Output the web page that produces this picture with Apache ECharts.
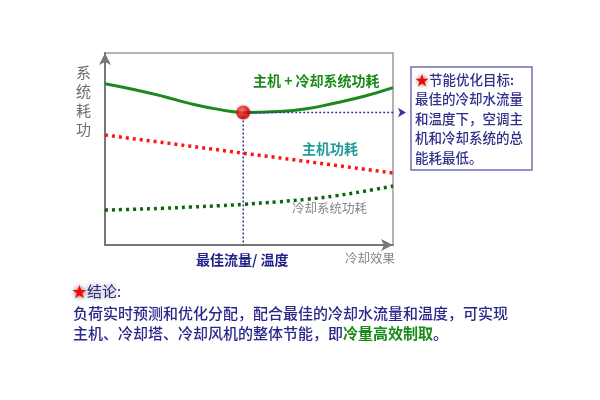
<!DOCTYPE html>
<html><head><meta charset="utf-8">
<script src="https://cdn.jsdelivr.net/npm/echarts@6/dist/echarts.min.js"></script>
<style>html,body{margin:0;padding:0;background:#fff}#c{width:600px;height:400px}</style>
</head><body><div id="c"></div>
<script>
// ---- data ----
const xs = [0, 10, 20, 30, 40, 48, 60, 70, 80, 90, 100];
const totalPower = [84, 81, 77.5, 73.5, 70.5, 69, 69.5, 71, 74, 77.5, 82];
const hostPower = [57.3, 55.3, 53.4, 51.4, 49.4, 47.8, 45.5, 43.5, 41.5, 39.5, 37.5];
const coolingPower = [18.2, 18.6, 19.1, 19.8, 20.5, 21.2, 22.5, 23.8, 25.6, 28, 30.7];
const optimumX = 48;
const optimumY = 69;
const arrowEndX = 104.5;

const pair = (arr) => xs.map((x, i) => [x, arr[i]]);
const FONT = '"Noto Sans CJK SC", "Noto Sans", sans-serif';
const NAVY = '#28288a';
const GUIDE = {color: '#3636a0', width: 1.5, type: [2, 2]};

const chart = echarts.init(document.getElementById('c'), null, {renderer: 'canvas'});
chart.setOption({
  animation: false,
  grid: {left: 105, top: 53, width: 288, height: 192, show: true, borderColor: '#9a9a9a', borderWidth: 1.5, containLabel: false},
  xAxis: {type: 'value', min: 0, max: 100, axisLabel: {show: false}, axisTick: {show: false}, splitLine: {show: false},
    axisLine: {lineStyle: {color: '#777', width: 2}, symbol: ['none', 'arrow'], symbolSize: [9, 12], symbolOffset: [0, 0]}},
  yAxis: {type: 'value', min: 0, max: 100, axisLabel: {show: false}, axisTick: {show: false}, splitLine: {show: false},
    axisLine: {lineStyle: {color: '#777', width: 2}, symbol: ['none', 'arrow'], symbolSize: [9, 12]}},
  series: [
    {type: 'line', data: pair(totalPower), smooth: 0.5, showSymbol: false, lineStyle: {color: '#1a8a1a', width: 3}},
    {type: 'line', data: pair(hostPower), showSymbol: false, lineStyle: {color: '#ff1414', width: 3.5, type: [3, 4]}},
    {type: 'line', data: pair(coolingPower), smooth: 0.4, showSymbol: false, lineStyle: {color: '#0d650d', width: 3.5, type: [3, 4]}},
    {type: 'line', clip: false, silent: true, data: [[optimumX, optimumY], [optimumX, 0]], showSymbol: false, lineStyle: GUIDE},
    {type: 'line', clip: false, silent: true, showSymbol: true, lineStyle: GUIDE,
      data: [{value: [optimumX, optimumY], symbol: 'none'},
             {value: [arrowEndX, optimumY], symbol: 'arrow', symbolSize: [7, 8], symbolRotate: -90, itemStyle: {color: '#3636a0'}}]},
    {type: 'scatter', data: [[optimumX, optimumY]], symbolSize: 14, z: 10,
      itemStyle: {color: {type: 'radial', x: 0.4, y: 0.35, r: 0.7, colorStops: [{offset: 0, color: '#ff6a6a'}, {offset: 0.6, color: '#f00000'}, {offset: 1, color: '#c00000'}]},
        shadowColor: 'rgba(0,0,0,0.3)', shadowBlur: 3}}
  ],
  graphic: [
    {type: 'text', left: 76, top: 63, style: {text: '系\n统\n耗\n功', font: '15px ' + FONT, fill: '#6e6e6e', lineHeight: 19}},
    {type: 'text', left: 253, top: 74, style: {text: '主机 + 冷却系统功耗', font: 'bold 14px ' + FONT, fill: '#1a8a1a'}},
    {type: 'text', left: 302, top: 142, style: {text: '主机功耗', font: 'bold 14px ' + FONT, fill: '#249a9a'}},
    {type: 'text', left: 292, top: 202, style: {text: '冷却系统功耗', font: '12.5px ' + FONT, fill: '#858585'}},
    {type: 'text', left: 196, top: 253, style: {text: '最佳流量/ 温度', font: 'bold 14px ' + FONT, fill: '#1f1f8a'}},
    {type: 'text', left: 345, top: 252, style: {text: '冷却效果', font: '12.5px ' + FONT, fill: '#858585'}},
    {type: 'rect', shape: {x: 411, y: 67, width: 121, height: 103}, style: {fill: '#fff', stroke: '#7070b8', lineWidth: 1.5}},
    {type: 'text', left: 415, top: 70, style: {
      text: '{s|★}节能优化目标:\n最佳的冷却水流量\n和温度下，空调主\n机和冷却系统的总\n能耗最低。',
      font: '500 13.5px ' + FONT, fill: '#30308a', lineHeight: 19.5,
      rich: {s: {fill: '#ff0000', font: '14px ' + FONT, textShadowColor: '#777', textShadowBlur: 4}}}},
    {type: 'text', left: 72, top: 284, style: {
      text: '{s|★}{h|结论}:', font: '15px ' + FONT, fill: NAVY,
      rich: {s: {fill: '#ff0000', font: '15px ' + FONT, textShadowColor: '#555', textShadowBlur: 5},
             h: {fill: NAVY, font: '15px ' + FONT, textShadowColor: '#888', textShadowBlur: 5}}}},
    {type: 'text', left: 73, top: 303, style: {
      text: '负荷实时预测和优化分配，配合最佳的冷却水流量和温度，可实现\n主机、冷却塔、冷却风机的整体节能，即{g|冷量高效制取}。',
      font: '500 15px ' + FONT, fill: NAVY, lineHeight: 20,
      rich: {g: {fill: '#1a8a1a', font: 'bold 15px ' + FONT}}}}
  ]
});
</script></body></html>
